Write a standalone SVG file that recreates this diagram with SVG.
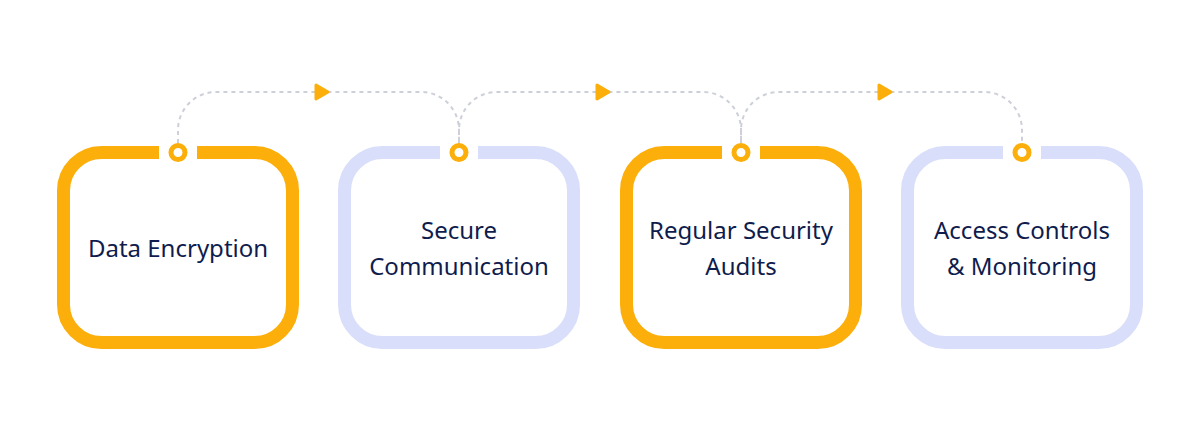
<svg xmlns="http://www.w3.org/2000/svg" width="1200" height="432" viewBox="0 0 1200 432">
  <style>
    .box { fill: none; stroke-width: 13; }
    .orange { stroke: #FCAE0A; }
    .lav { stroke: #D9DEFA; }
    .port { fill: #FFFFFF; stroke: #FCAE0A; stroke-width: 5; }
    .label { font-family: "Noto Sans", "Open Sans", sans-serif; font-size: 24px; fill: #0F1C4D; text-anchor: middle; }
    .conn { fill: none; stroke: #CDD0D8; stroke-width: 2; stroke-dasharray: 4 4; }
    .arrow { fill: #FCAE0A; stroke: #FCAE0A; stroke-width: 3; stroke-linejoin: round; }
  </style>
  <defs>
    <path id="frame" d="M19,152.5 H76.5 A38,38 0 0 1 114.5,190.5 V304.5 A38,38 0 0 1 76.5,342.5 H-76.5 A38,38 0 0 1 -114.5,304.5 V190.5 A38,38 0 0 1 -76.5,152.5 H-19"/>
  </defs>
  <rect width="1200" height="432" fill="#FFFFFF"/>
  <g id="connectors">
    <path class="conn" d="M178,143 V130 A38,38 0 0 1 216,92 H421 A38,38 0 0 1 459,130 V143"/>
    <path class="conn" d="M459,143 V130 A38,38 0 0 1 497,92 H703 A38,38 0 0 1 741,130 V143"/>
    <path class="conn" d="M741,143 V130 A38,38 0 0 1 779,92 H984 A38,38 0 0 1 1022,130 V143"/>
    <polygon class="arrow" points="316,85 328,92 316,99"/>
    <polygon class="arrow" points="597,85 609,92 597,99"/>
    <polygon class="arrow" points="879,85 891,92 879,99"/>
  </g>
  <g id="node-data-encryption" transform="translate(178,0)">
    <use href="#frame" class="box orange"/>
    <circle class="port" cx="0" cy="152.5" r="7"/>
    <text class="label" x="0" y="257">Data Encryption</text>
  </g>
  <g id="node-secure-communication" transform="translate(459,0)">
    <use href="#frame" class="box lav"/>
    <circle class="port" cx="0" cy="152.5" r="7"/>
    <text class="label" x="0" y="239">Secure</text>
    <text class="label" x="0" y="275">Communication</text>
  </g>
  <g id="node-regular-security-audits" transform="translate(741,0)">
    <use href="#frame" class="box orange"/>
    <circle class="port" cx="0" cy="152.5" r="7"/>
    <text class="label" x="0" y="239">Regular Security</text>
    <text class="label" x="0" y="275">Audits</text>
  </g>
  <g id="node-access-controls" transform="translate(1022,0)">
    <use href="#frame" class="box lav"/>
    <circle class="port" cx="0" cy="152.5" r="7"/>
    <text class="label" x="0" y="239">Access Controls</text>
    <text class="label" x="0" y="275">&amp; Monitoring</text>
  </g>
</svg>
